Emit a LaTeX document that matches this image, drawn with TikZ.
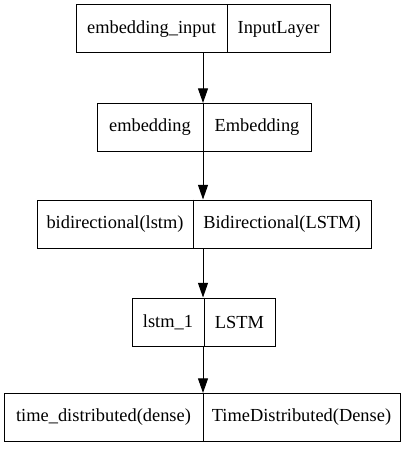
\documentclass[tikz,border=0pt]{standalone}
\usepackage{fontspec}
\setmainfont{Liberation Serif}
\usetikzlibrary{arrows.meta}
\begin{document}
\begin{tikzpicture}[x=0.75pt,y=-0.75pt,
  box/.style={draw,line width=0.75pt,inner sep=0pt,minimum height=36pt},
  lbl/.style={inner sep=0pt,font=\fontsize{13.8}{16}\selectfont},
  sep/.style={line width=0.75pt},
  arr/.style={-{Triangle[length=11pt,width=7.5pt]},line width=0.75pt}]
\useasboundingbox (0,0) rectangle (408,449);
% boxes
\node[box,minimum width=190.5pt] (n1) at (203,29) {};
\node[box,minimum width=160.5pt] (n2) at (204,127.5) {};
\node[box,minimum width=250.5pt] (n3) at (204,224) {};
\node[box,minimum width=107.25pt] (n4) at (203.5,322) {};
\node[box,minimum width=297pt] (n5) at (202,417.5) {};
% dividers
\coordinate (d1) at (227,0);
\coordinate (d2) at (203,0);
\coordinate (d3) at (193,0);
\coordinate (d4) at (204,0);
\coordinate (d5) at (203,0);
\draw[sep] (d1 |- n1.north) -- (d1 |- n1.south);
\draw[sep] (d2 |- n2.north) -- (d2 |- n2.south);
\draw[sep] (d3 |- n3.north) -- (d3 |- n3.south);
\draw[sep] (d4 |- n4.north) -- (d4 |- n4.south);
\draw[sep] (d5 |- n5.north) -- (d5 |- n5.south);
% labels
\node[lbl] (t1a) at (151.5,29) {embedding\_input};
\node[lbl] (t1b) at (278.5,29) {InputLayer};
\node[lbl] (t2a) at (150,127.5) {embedding};
\node[lbl] (t2b) at (257,127.5) {Embedding};
\node[lbl] (t3a) at (115,224) {bidirectional(lstm)};
\node[lbl] (t3b) at (282,224) {Bidirectional(LSTM)};
\node[lbl] (t4a) at (168,322) {lstm\_1};
\node[lbl] (t4b) at (239.5,322) {LSTM};
\node[lbl] (t5a) at (103.5,417.5) {time\_distributed(dense)};
\node[lbl] (t5b) at (301.5,417.5) {TimeDistributed(Dense)};
% arrows
\draw[arr] (n1.south) -- (n1.south |- n2.north);
\draw[arr] (n1.south |- n2.south) -- (n1.south |- n3.north);
\draw[arr] (n1.south |- n3.south) -- (n1.south |- n4.north);
\draw[arr] (n1.south |- n4.south) -- (n1.south |- n5.north);
\end{tikzpicture}
\end{document}
